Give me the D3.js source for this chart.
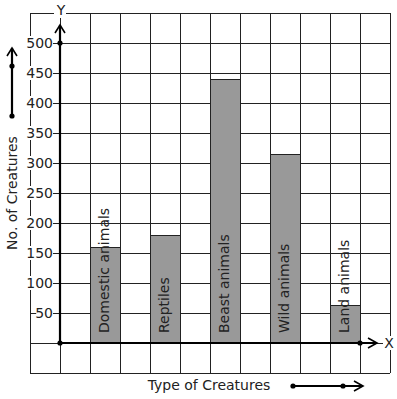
<!DOCTYPE html>
<html>
<head>
<meta charset="utf-8">
<script src="https://cdn.jsdelivr.net/npm/d3@7"></script>
<style>
  body { margin: 0; background: #fff; }
  svg { display: block; font-family: "DejaVu Sans", sans-serif; }
</style>
</head>
<body>
<div id="chart"></div>
<script>
const categories = ["Domestic animals", "Reptiles", "Beast animals", "Wild animals", "Land animals"];
const values = [160, 180, 440, 315, 62];
const tickValues = [500, 450, 400, 350, 300, 250, 200, 150, 100, 50];

const width = 397, height = 399;
const ink = "#222";
const fs = 14;

const svg = d3.select("#chart").append("svg")
  .attr("width", width).attr("height", height);

// grid columns -1..11 around the y axis at column 0
const x = d3.scaleLinear().domain([-1, 11]).range([30, 390]);
const y = d3.scaleLinear().domain([-50, 550]).range([373, 13]);

// grid
const grid = svg.append("g").attr("stroke", ink).attr("stroke-width", 1).attr("shape-rendering", "crispEdges");
grid.selectAll(".v").data(d3.range(-1, 12)).join("line")
  .attr("x1", d => x(d)).attr("x2", d => x(d))
  .attr("y1", y(550)).attr("y2", y(-50));
grid.selectAll(".h").data(d3.range(-50, 551, 50)).join("line")
  .attr("y1", d => y(d)).attr("y2", d => y(d))
  .attr("x1", x(-1)).attr("x2", x(11));

// bars
svg.append("g").selectAll("rect").data(categories).join("rect")
  .attr("x", (d, i) => x(1 + 2 * i))
  .attr("width", x(1) - x(0))
  .attr("y", (d, i) => y(values[i]))
  .attr("height", (d, i) => y(0) - y(values[i]))
  .attr("fill", "#999").attr("stroke", ink).attr("stroke-width", 1)
  .attr("shape-rendering", "crispEdges");

svg.append("g").selectAll("text").data(categories).join("text")
  .attr("transform", (d, i) => `translate(${x(1.5 + 2 * i) + 4},${y(0) - 10}) rotate(-90)`)
  .attr("font-size", fs).attr("fill", ink)
  .text(d => d);

// y tick labels with white backing
const ticks = svg.append("g");
ticks.selectAll("rect").data(tickValues).join("rect")
  .attr("x", d => 53 - (String(d).length * 8.4))
  .attr("y", d => y(d) - 7)
  .attr("width", d => String(d).length * 8.4)
  .attr("height", 14)
  .attr("fill", "#fff");
ticks.selectAll("text").data(tickValues).join("text")
  .attr("x", 53).attr("y", d => y(d)).attr("dy", "0.36em")
  .attr("text-anchor", "end").attr("font-size", fs).attr("fill", ink)
  .text(d => d);
ticks.selectAll("line").data(tickValues).join("line")
  .attr("x1", 53).attr("x2", x(0))
  .attr("y1", d => y(d)).attr("y2", d => y(d))
  .attr("stroke", ink).attr("shape-rendering", "crispEdges");

// axes
const axes = svg.append("g").attr("stroke", "#000").attr("stroke-width", 2.2).attr("fill", "none");
axes.append("line").attr("x1", x(0)).attr("x2", x(0)).attr("y1", y(0)).attr("y2", 25);
axes.append("polyline").attr("stroke-width", 1.6)
  .attr("points", `${x(0) - 5},33 ${x(0)},25 ${x(0) + 5},33`);
axes.append("line").attr("x1", x(0)).attr("x2", 376).attr("y1", y(0)).attr("y2", y(0));
axes.append("polyline").attr("stroke-width", 1.6)
  .attr("points", `368,${y(0) - 5} 377,${y(0)} 368,${y(0) + 5}`);

svg.append("g").attr("fill", "#000").selectAll("circle")
  .data([[x(0), y(500)], [x(0), y(0)], [x(10), y(0)]]).join("circle")
  .attr("cx", d => d[0]).attr("cy", d => d[1]).attr("r", 2.6);

// axis letters
svg.append("rect").attr("x", 54).attr("y", 4).attr("width", 12).attr("height", 14).attr("fill", "#fff");
svg.append("text").attr("x", x(0) + 1).attr("y", 10).attr("dy", "0.36em")
  .attr("text-anchor", "middle").attr("font-size", fs).attr("fill", ink).text("Y");
svg.append("rect").attr("x", 383).attr("y", y(0) - 7).attr("width", 12).attr("height", 14).attr("fill", "#fff");
svg.append("text").attr("x", 389).attr("y", y(0)).attr("dy", "0.36em")
  .attr("text-anchor", "middle").attr("font-size", fs).attr("fill", ink).text("X");

// axis titles
svg.append("text")
  .attr("transform", `translate(17,193) rotate(-90)`)
  .attr("text-anchor", "middle").attr("font-size", fs).attr("fill", ink)
  .text("No. of Creatures");
svg.append("text")
  .attr("x", 209).attr("y", 390)
  .attr("text-anchor", "middle").attr("font-size", fs).attr("fill", ink)
  .text("Type of Creatures");

// decorative direction arrows
const deco = svg.append("g").attr("stroke", "#000").attr("fill", "none");
deco.append("line").attr("x1", 12).attr("x2", 12).attr("y1", 116).attr("y2", 48).attr("stroke-width", 2.2);
deco.append("polyline").attr("stroke-width", 1.6).attr("points", "7,56 12,48 17,56");
deco.append("line").attr("x1", 293).attr("x2", 362).attr("y1", 386).attr("y2", 386).attr("stroke-width", 2.2);
deco.append("polyline").attr("stroke-width", 1.6).attr("points", "354,381 363,386 354,391");
svg.append("g").selectAll("circle").data([[12, 66], [12, 116], [293, 386], [343, 386]]).join("circle")
  .attr("cx", d => d[0]).attr("cy", d => d[1]).attr("r", 2.6).attr("fill", "#000");
</script>
</body>
</html>
